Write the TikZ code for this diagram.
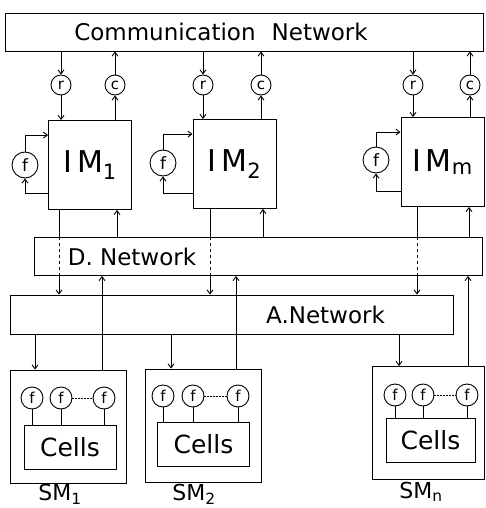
\documentclass[tikz,border=0pt]{standalone}
\usepackage{fontspec}
\setmainfont{DejaVu Sans}
\usetikzlibrary{arrows.meta}
\begin{document}
\begin{tikzpicture}[
    x=1pt, y=-1pt, line width=0.9pt,
    % Network boxes
    rede/.style={
        draw, inner sep=0pt, minimum height=38pt,
        font=\fontsize{23}{26}\selectfont
    },
    % Interface modules
    modulo/.style={
        draw, inner sep=0pt, minimum width=83pt,
        minimum height=89pt, font=\fontsize{30}{32}\selectfont
    },
    % Storage modules and their cells
    sub/.style={draw, minimum width=116pt, minimum height=113pt},
    celula/.style={
        draw, inner sep=0pt, minimum width=92pt,
        minimum height=44pt, font=\fontsize{25}{28}\selectfont
    },
    circ/.style={
        draw, circle, inner sep=0pt, minimum size=20pt,
        font=\fontsize{15}{16}\selectfont
    },
    circf/.style={circ, minimum size=26pt, font=\fontsize{17}{18}\selectfont},
    circs/.style={circ, minimum size=22pt},
    rotulo/.style={inner sep=1pt, font=\fontsize{22}{24}\selectfont},
    linha/.style={draw, -{Straight Barb[length=4pt,width=6pt]}},
    ltrac/.style={draw, dashed},
    pont/.style={draw, dash pattern=on 1.5pt off 1.5pt}
]
\useasboundingbox (0,0) rectangle (485,508);

% ---- COMMUNICATION NETWORK ----
\node[rede, minimum width=478pt,
      label={[font=\fontsize{23}{26}\selectfont, xshift=-23pt]center:Communication\hspace{0.7em}Network}]
      (com) at (244,32) {};

% ---- INTERFACE MODULES ----
\node[modulo] (im1) at (90,165)    {I\,M\textsubscript{1}};
\node[modulo] (im2) at (234.5,164) {I\,M\textsubscript{2}};
\node[modulo] (imm) at (442.5,162) {I\,M\textsubscript{m}};

\node[circ] (r1) at (61,85)  {r};
\node[circ] (c1) at (115,85) {c};
\node[circ] (r2) at (203,85) {r};
\node[circ] (c2) at (261,85) {c};
\node[circ] (rm) at (413,85) {r};
\node[circ] (cm) at (470,85) {c};

\draw[linha] (r1 |- com.south) -- (r1.north);
\draw[linha] (r1.south) -- (r1 |- im1.north);
\draw[linha] (c1 |- im1.north) -- (c1.south);
\draw[linha] (c1.north) -- (c1 |- com.south);

\draw[linha] (r2 |- com.south) -- (r2.north);
\draw[linha] (r2.south) -- (r2 |- im2.north);
\draw[linha] (c2 |- im2.north) -- (c2.south);
\draw[linha] (c2.north) -- (c2 |- com.south);

\draw[linha] (rm |- com.south) -- (rm.north);
\draw[linha] (rm.south) -- (rm |- imm.north);
\draw[linha] (cm |- imm.north) -- (cm.south);
\draw[linha] (cm.north) -- (cm |- com.south);

% Feedback loops
\node[circf] (f1) at (25,165)  {f};
\node[circf] (f2) at (163,163) {f};
\node[circf] (fm) at (376,160) {f};

\draw[linha] (f1.north) |- ([yshift=-15pt]im1.north west);
\draw[linha] ([yshift=17pt]im1.south west) -| (f1.south);
\draw[linha] (f2.north) |- ([yshift=-15pt]im2.north west);
\draw[linha] ([yshift=16pt]im2.south west) -| (f2.south);
\draw[linha] (fm.north) |- ([yshift=-15pt]imm.north west);
\draw[linha] ([yshift=16pt]imm.south west) -| (fm.south);

% ---- D. NETWORK / A. NETWORK ----
\node[rede, minimum width=448pt,
      label={[font=\fontsize{23}{26}\selectfont, xshift=-126pt]center:D. Network}]
      (dnet) at (258,256.5) {};
\node[rede, minimum width=443pt, minimum height=39pt,
      label={[font=\fontsize{23}{26}\selectfont, xshift=94pt]center:A.Network}]
      (anet) at (231.5,314.5) {};

% ---- STORAGE MODULES ----
\node[sub] (sm1) at (68.5,426.5) {};
\node[sub] (sm2) at (203.5,425.5) {};
\node[sub, minimum width=112pt] (smn) at (428,423) {};

\node[celula] (cel1) at (70,447)      {Cells};
\node[celula] (cel2) at (203.5,444.5) {Cells};
\node[celula, minimum width=89pt] (celn) at (430.5,440.5) {Cells};

\node[circs] (f1_a) at (32,398)  {f};
\node[circs] (f1_b) at (61,398)  {f};
\node[circs] (f1_c) at (104,398) {f};
\node[circs] (f2_a) at (163,396) {f};
\node[circs] (f2_b) at (193,396) {f};
\node[circs] (f2_c) at (238,396) {f};
\node[circs] (fn_a) at (395,395) {f};
\node[circs] (fn_b) at (423,395) {f};
\node[circs] (fn_c) at (467,395) {f};

\draw (f1_a.south) -- (f1_a |- cel1.north);
\draw (f1_b.south) -- (f1_b |- cel1.north);
\draw (f1_c.south) -- (f1_c |- cel1.north);
\draw[pont] (f1_b.east) -- (f1_c.west);
\draw (f2_a.south) -- (f2_a |- cel2.north);
\draw (f2_b.south) -- (f2_b |- cel2.north);
\draw (f2_c.south) -- (f2_c |- cel2.north);
\draw[pont] (f2_b.east) -- (f2_c.west);
\draw (fn_a.south) -- (fn_a |- celn.north);
\draw (fn_b.south) -- (fn_b |- celn.north);
\draw (fn_c.south) -- (fn_c |- celn.north);
\draw[pont] (fn_b.east) -- (fn_c.west);

\node[rotulo] (l1) at (60,494)  {SM\textsubscript{1}};
\node[rotulo] (l2) at (194,494) {SM\textsubscript{2}};
\node[rotulo] (ln) at (421,492) {SM\textsubscript{n}};

% ---- VERTICAL LINKS ----
% IM_1
\draw ([xshift=-31pt]im1.south) -- ([xshift=-31pt]im1.south |- dnet.north);
\draw[ltrac] ([xshift=-31pt]im1.south |- dnet.north) -- ([xshift=-31pt]im1.south |- dnet.south);
\draw[linha] ([xshift=-31pt]im1.south |- dnet.south) -- ([xshift=-31pt]im1.south |- anet.north);
\draw[linha] ([xshift=27pt]im1.south |- dnet.north) -- ([xshift=27pt]im1.south);
% IM_2
\draw ([xshift=-24.5pt]im2.south) -- ([xshift=-24.5pt]im2.south |- dnet.north);
\draw[ltrac] ([xshift=-24.5pt]im2.south |- dnet.north) -- ([xshift=-24.5pt]im2.south |- dnet.south);
\draw[linha] ([xshift=-24.5pt]im2.south |- dnet.south) -- ([xshift=-24.5pt]im2.south |- anet.north);
\draw[linha] ([xshift=28.5pt]im2.south |- dnet.north) -- ([xshift=28.5pt]im2.south);
% IM_m
\draw ([xshift=-25.5pt]imm.south) -- ([xshift=-25.5pt]imm.south |- dnet.north);
\draw[ltrac] ([xshift=-25.5pt]imm.south |- dnet.north) -- ([xshift=-25.5pt]imm.south |- dnet.south);
\draw[linha] ([xshift=-25.5pt]imm.south |- dnet.south) -- ([xshift=-25.5pt]imm.south |- anet.north);
\draw[linha] ([xshift=26.5pt]imm.south |- dnet.north) -- ([xshift=26.5pt]imm.south);

% SM links
\draw[linha] ([xshift=-33.5pt]sm1.north |- anet.south) -- ([xshift=-33.5pt]sm1.north);
\draw[linha] ([xshift=33.5pt]sm1.north) -- ([xshift=33.5pt]sm1.north |- dnet.south);
\draw[linha] ([xshift=-32.5pt]sm2.north |- anet.south) -- ([xshift=-32.5pt]sm2.north);
\draw[linha] ([xshift=32.5pt]sm2.north) -- ([xshift=32.5pt]sm2.north |- dnet.south);
\draw[linha] ([xshift=-29pt]smn.north |- anet.south) -- ([xshift=-29pt]smn.north);
\draw[linha] ([xshift=40pt]smn.north) -- ([xshift=40pt]smn.north |- dnet.south);

\end{tikzpicture}
\end{document}
